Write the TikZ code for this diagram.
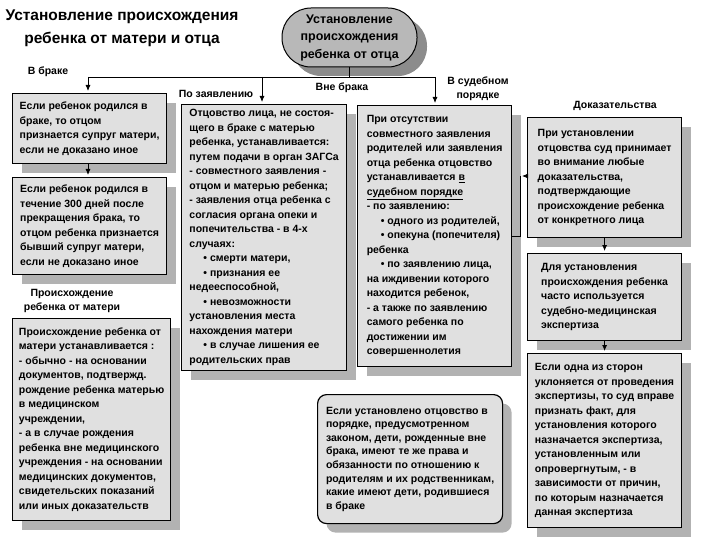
\documentclass[tikz,border=0pt]{standalone}
\usepackage{fontspec}
\setmainfont{Liberation Sans}
\usetikzlibrary{shadows,arrows.meta}
\definecolor{boxfill}{RGB}{224,224,224}
\definecolor{shgray}{RGB}{178,178,178}
\definecolor{ovalfill}{RGB}{184,184,184}
\definecolor{ovalsh}{RGB}{140,140,140}
\begin{document}
\begin{tikzpicture}[x=1pt,y=-1pt,
  box/.style={draw, line width=1.2pt, fill=boxfill, anchor=north west, align=left,
    inner xsep=5pt, inner ysep=2pt, font=\fontsize{10.5}{14.5}\selectfont\bfseries,
    drop shadow={shadow xshift=9pt, shadow yshift=-9pt, fill=shgray, opacity=1}},
  lbl/.style={font=\fontsize{10.5}{14}\selectfont\bfseries, align=center},
  arr/.style={-{Latex[length=6pt,width=5pt]}, line width=0.8pt, shorten >=2pt},
  conn/.style={line width=0.8pt}]
\useasboundingbox (0,0) rectangle (720,540);

% title
\node[font=\fontsize{15.5}{23}\selectfont\bfseries, align=center] (title) at (122,28)
  {Установление происхождения\\ребенка от матери и отца};

% oval
\node[draw, line width=1pt, fill=ovalfill, rounded corners=29pt, minimum width=135pt,
  minimum height=59pt, font=\fontsize{12.5}{17.5}\selectfont\bfseries, align=center,
  drop shadow={shadow xshift=10pt, shadow yshift=-9pt, fill=ovalsh, opacity=1}]
  (oval) at (349.5,37.5) {Установление\\происхождения\\ребенка от отца};

% labels
\node[lbl] (lB) at (48,72) {В браке};
\node[lbl] (lP) at (216,94) {По заявлению};
\node[lbl] (lV) at (342,88) {Вне брака};
\node[lbl] (lS) at (478,89) {В судебном\\порядке};
\node[lbl] (lD) at (615,106) {Доказательства};
\node[lbl] (lM) at (72,301) {Происхождение\\ребенка от матери};

% boxes
\node[box, minimum width=154pt, minimum height=70pt] (b1) at (12,93)
  {Если ребенок родился в\\браке, то отцом\\признается супруг матери,\\если не доказано иное};
\node[box, minimum width=154pt, minimum height=97pt] (b2) at (12,177)
  {Если ребенок родился в\\течение 300 дней после\\прекращения брака, то\\отцом ребенка признается\\бывший супруг матери,\\если не доказано иное};
\node[box, minimum width=158pt, minimum height=202pt] (b3) at (12,318)
  {Происхождение ребенка от\\матери устанавливается :\\- обычно - на основании\\документов,  подтвержд.\\рождение ребенка матерью\\в медицинском\\учреждении,\\- а в случае рождения\\ребенка вне медицинского\\учреждения - на основании\\медицинских документов,\\свидетельских показаний\\или иных доказательств};
\node[box, minimum width=165pt, minimum height=266pt] (b4) at (181,104)
  {Отцовство лица, не состоя-\\щего в браке с матерью\\ребенка, устанавливается:\\путем подачи в орган ЗАГСа\\- совместного заявления -\\отцом и матерью ребенка;\\- заявления отца ребенка с\\согласия органа опеки и\\попечительства - в 4-х\\случаях:\\\hspace*{14pt}• смерти матери,\\\hspace*{14pt}• признания ее\\недееспособной,\\\hspace*{14pt}• невозможности\\установления места\\нахождения матери\\\hspace*{14pt}• в случае лишения ее\\родительских прав};
\node[box, minimum width=154pt, minimum height=261pt] (b5) at (357,105)
  {При отсутствии\\совместного заявления\\родителей или заявления\\отца ребенка отцовство\\устанавливается  \underline{в}\\\underline{судебном порядке}\\- по заявлению:\\\hspace*{14pt}• одного из родителей,\\\hspace*{14pt}• опекуна (попечителя)\\ребенка\\\hspace*{14pt}• по заявлению лица,\\на иждивении которого\\находится ребенок,\\- а также по заявлению\\самого ребенка по\\достижении им\\совершеннолетия};
\node[box, minimum width=154pt, minimum height=120pt] (b6) at (527,117)
  {При установлении\\отцовства суд принимает\\во внимание любые\\доказательства,\\подтверждающие\\происхождение ребенка\\от конкретного лица};
\node[box, minimum width=154pt, minimum height=87pt] (b7) at (527,253)
  {Для установления\\происхождения ребенка\\часто используется\\судебно-медицинская\\экспертиза};
\node[box, minimum width=154pt, minimum height=174pt] (b8) at (527,353)
  {Если одна из сторон\\уклоняется от проведения\\экспертизы, то суд вправе\\признать факт, для\\установления которого\\назначается экспертиза,\\установленным или\\опровергнутым, - в\\зависимости от причин,\\по которым назначается\\данная экспертиза};
\node[box, rounded corners=9pt, minimum width=185pt, minimum height=129pt,
  font=\fontsize{10.5}{13.6}\selectfont\bfseries] (b9) at (317,394)
  {Если установлено отцовство в\\порядке, предусмотренном\\законом, дети, рожденные вне\\брака, имеют те же права и\\обязанности по отношению к\\родителям и их родственникам,\\какие имеют дети, родившиеся\\в браке};

% connectors
\coordinate (hL) at (88,77);
\coordinate (hM) at (262,77);
\coordinate (hR) at (435,77);
\coordinate (k1) at (520,236);
\coordinate (k2) at (520,176);
\draw[conn] (oval.south) -- (oval.south |- hL);
\draw[conn] (hL) -- (hR);
\draw[arr] (hL) -- (hL |- b1.north);
\draw[arr] (hM) -- (hM |- b4.north);
\draw[arr] (hR) -- (hR |- b5.north);
\draw[arr] (b1.south -| hL) -- (b2.north -| hL);
\draw[conn] (b5.east |- k1) -- (k1) -- (k2);
\draw[arr] (b6.west |- k2) -- (k2);
\draw[arr] (b6) -- (b7);
\draw[arr] (b7) -- (b8);
\end{tikzpicture}
\end{document}
